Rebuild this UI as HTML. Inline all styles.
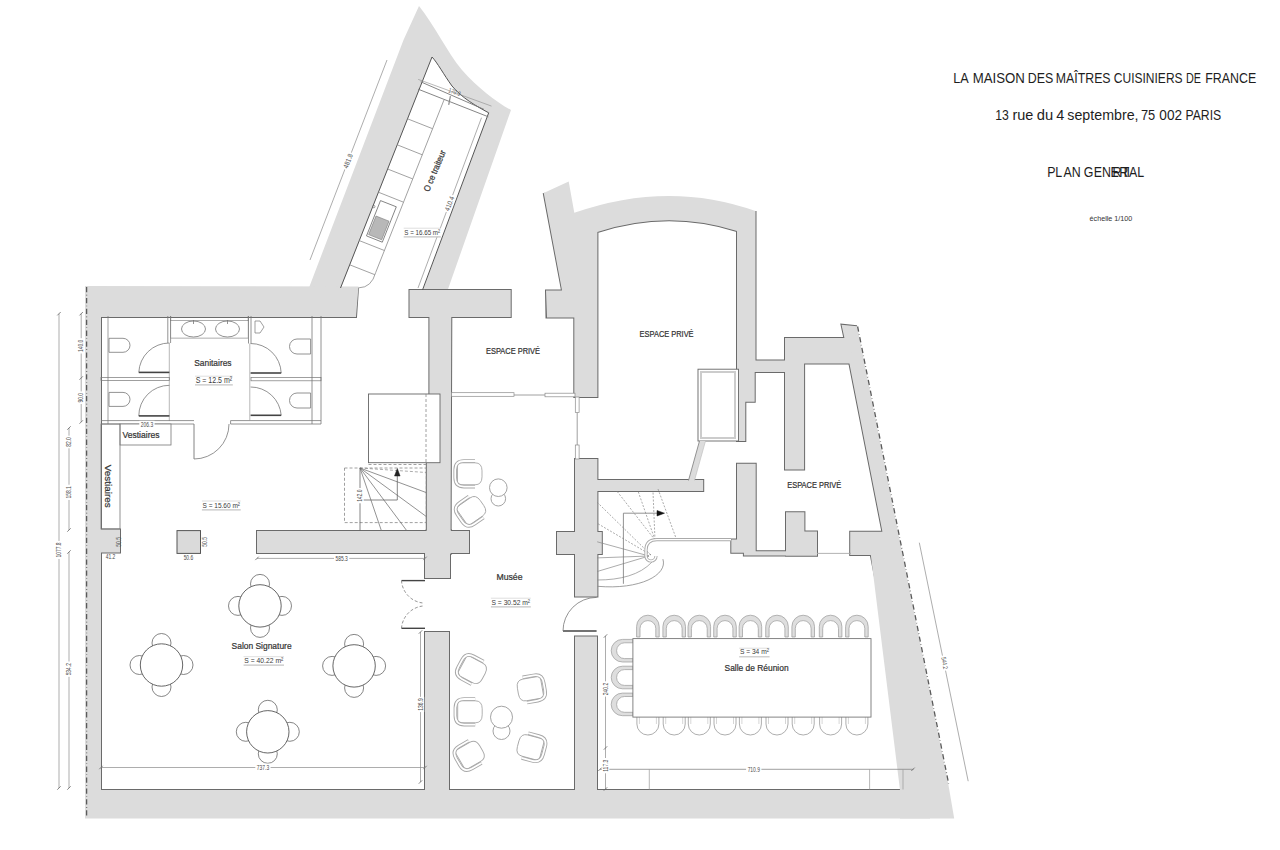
<!DOCTYPE html>
<html><head><meta charset="utf-8"><style>
html,body{margin:0;padding:0;background:#fff;width:1280px;height:850px;overflow:hidden;}
svg{position:absolute;left:0;top:0;}
text{font-family:"Liberation Sans",sans-serif;}
</style></head><body>
<svg width="1280" height="850" viewBox="0 0 1280 850">
<path d="M308.5,289 L403.5,40 L419,6 C435,26 447,52 462,70 C478,88 496,102 511,110 L447,292 Z" fill="#dcdcdc"/><path d="M336.5,299 L340.5,289 L432,57 C437,62 444,75 452,86 C462,98 476,106 488.7,112.8 L422.5,291 L419,300 Z" fill="#fff"/><g fill="none" stroke="#6a6a6a" stroke-width="2"><path d="M86,317 L356,317 L358,287.5"/><path d="M101,287 L101,791"/><path d="M86,790 L930,790"/><path d="M257,531 L469,531 L469,553 L257,553 Z"/><path d="M429.4,317 L451.3,317 L450.6,531 L426.8,531 L426.8,400 L429.4,400 Z"/><path d="M425,553 L450,553 L450,578 L425,578 Z"/><path d="M426.8,530 L450.6,530 L450.6,554 L426.8,554 Z"/><path d="M425,791.5 L425,632 L449,632 L449,791.5"/><path d="M409.5,290 L510.7,290 L510.7,317 L409.5,317 Z"/><path d="M574.3,212.8 M543.7,193 L562,290.4 L546,290.4 L546.5,317.6 L574.3,317.6 L574.3,397 L597.4,397 L597.4,232 Q668,209 737,231 L737,441 L745.3,441 L745.3,401.7 L754.7,401.7 L754.7,372 L785,372 L785,360.4 L755.5,360.4 L755.5,211"/><path d="M864,363.5 L804.1,363.5 L804.1,469.4 L785,469.4 L785,338 L844.4,338 L841.5,324.7 L857,326.2"/><path d="M849.4,363.5 L882.4,531.8 L850.2,531.8 L850.2,555 L870.8,555 L916.5,790.5"/><path d="M575,459 L597.4,459 L597.4,532 L601.8,532 L601.8,554 L597.4,554 L597.4,596.6 L575,596.6 L575,554 L557,554 L557,532 L575,532 Z"/><path d="M575,791.5 L575,636.5 L597,636.5 L597,791.5"/><path d="M597,480 L703.2,480 L703.2,491 L597,491 Z"/><path d="M737,463.8 L755.7,463.8 L755.7,552.7 L731.3,552.7 L731.3,539.5 L737,539.5 Z"/><path d="M743.9,551.3 L817,551.3 L817,555.5 L743.9,555.5 Z"/><path d="M786,512.2 L804.4,512.2 L804.4,531.6 L817,531.6 L817,555.5 L786,555.5 Z"/><path d="M101,529.4 L120,529.4 L120,552.5 L101,552.5 Z"/></g><g fill="#dcdcdc" stroke="none"><path d="M85,286 L358.5,286.5 L356,317 L85,317 Z"/><path d="M85,286 L101,286 L101,791 L85,791 Z"/><path d="M85,790 L930,790 L930,818.5 L85,818.5 Z"/><path d="M257,531 L469,531 L469,553 L257,553 Z"/><path d="M429.4,317 L451.3,317 L450.6,531 L426.8,531 L426.8,400 L429.4,400 Z"/><path d="M425,553 L450,553 L450,578 L425,578 Z"/><path d="M426.8,530 L450.6,530 L450.6,554 L426.8,554 Z"/><path d="M425,632 L449,632 L449,795 L425,795 Z"/><path d="M409.5,290 L510.7,290 L510.7,317 L409.5,317 Z"/><path d="M546,290.4 L562,290.4 L543.7,193 L568.7,181.5 L574.3,212.8 Q668,180 755.5,211 L755.5,360.4 L785,360.4 L785,372 L754.7,372 L754.7,401.7 L745.3,401.7 L745.3,441 L737,441 L737,231 Q668,209 597.4,232 L597.4,397 L574.3,397 L574.3,317.6 L547,317.6 Z"/><path d="M785,338 L844.4,338 L841.5,324.7 L857,326.2 L864,363.5 L804.1,363.5 L804.1,469.4 L785,469.4 Z"/><path d="M857,326.2 L948.2,783.5 L954.2,818.5 L900,818.5 L900,790 L870.8,555 L850.2,555 L850.2,531.8 L882.4,531.8 L849.4,363.5 Z"/><path d="M575,459 L597.4,459 L597.4,532 L601.8,532 L601.8,554 L597.4,554 L597.4,596.6 L575,596.6 L575,554 L557,554 L557,532 L575,532 Z"/><path d="M575,636.5 L597,636.5 L597,795 L575,795 Z"/><path d="M597,480 L703.2,480 L703.2,491 L597,491 Z"/><path d="M737,463.8 L755.7,463.8 L755.7,552.7 L731.3,552.7 L731.3,539.5 L737,539.5 Z"/><path d="M743.9,551.3 L817,551.3 L817,555.5 L743.9,555.5 Z"/><path d="M786,512.2 L804.4,512.2 L804.4,531.6 L817,531.6 L817,555.5 L786,555.5 Z"/><path d="M101,529.4 L120,529.4 L120,552.5 L101,552.5 Z"/></g><path d="M340.5,288 L432,57 C437,62 444,75 452,86 C462,98 476,106 488.7,112.8 L422.5,290" stroke="#555" stroke-width="1" fill="none"/><line x1="86.6" y1="287" x2="86.6" y2="818" stroke="#5a5a5a" stroke-width="1.3" stroke-dasharray="5.3,2.5,0.6,2.5"/><line x1="857.6" y1="326.5" x2="948.6" y2="783.5" stroke="#5a5a5a" stroke-width="1.3" stroke-dasharray="5.3,2.5,0.6,2.5"/>
<path d="M444,99.9 L375.7,272.5 Q371.5,287.6 359,287.8" stroke="#8a8a8a" stroke-width="0.8" fill="none"/><line x1="349.7" y1="264.8" x2="374.8" y2="274.7" stroke="#8a8a8a" stroke-width="0.8"/><line x1="359.3" y1="240.6" x2="384.4" y2="250.5" stroke="#8a8a8a" stroke-width="0.8"/><line x1="378.4" y1="192.2" x2="403.5" y2="202.2" stroke="#8a8a8a" stroke-width="0.8"/><line x1="387.6" y1="169" x2="412.7" y2="178.9" stroke="#8a8a8a" stroke-width="0.8"/><line x1="397.2" y1="144.8" x2="422.3" y2="154.8" stroke="#8a8a8a" stroke-width="0.8"/><line x1="407.5" y1="118.8" x2="432.6" y2="128.7" stroke="#8a8a8a" stroke-width="0.8"/><path d="M380.5,200.6 L396.3,206.8 L382.3,242.2 L366.5,235.9 Z" stroke="#666" stroke-width="0.8" fill="#fff"/><path d="M376,216 L389,221.2 L381.7,239.8 L368.6,234.6 Z" stroke="#777" stroke-width="0.6" fill="#b8b8b8"/><circle cx="373.8" cy="206.6" r="1.2" stroke="#666" stroke-width="0.6" fill="none"/><line x1="418.2" y1="79.4" x2="491.5" y2="106.1" stroke="#8a8a8a" stroke-width="0.6"/><line x1="420.7" y1="81.8" x2="484" y2="109.4" stroke="#777" stroke-width="0.9"/><line x1="418.2" y1="89.2" x2="488.3" y2="116.8" stroke="#777" stroke-width="0.9"/><line x1="450.4" y1="96.2" x2="448.7" y2="104.9" stroke="#888" stroke-width="1.2"/><line x1="481.5" y1="117.7" x2="418" y2="288" stroke="#8a8a8a" stroke-width="0.7"/><line x1="310" y1="260" x2="387" y2="60" stroke="#8a8a8a" stroke-width="0.7"/><rect x="339" y="157.1" width="18" height="7.9" fill="#fff" transform="rotate(-68.5 348 161)"/><text x="350.3" y="161.9" font-size="7" text-anchor="middle" fill="#4a4a4a" transform="rotate(-68.5 350.3 161.9)" textLength="15" lengthAdjust="spacingAndGlyphs">481.8</text><rect x="440.4" y="199.6" width="18" height="7.9" fill="#fff" transform="rotate(-69.5 449.4 203.5)"/><text x="451.7" y="204.4" font-size="7" text-anchor="middle" fill="#4a4a4a" transform="rotate(-69.5 451.7 204.4)" textLength="15" lengthAdjust="spacingAndGlyphs">410.4</text><text x="453.7" y="94.1" font-size="6.5" text-anchor="middle" fill="#4a4a4a" transform="rotate(20 453.7 94.1)" textLength="12.3" lengthAdjust="spacingAndGlyphs">170.0</text><text x="437.5" y="172" font-size="9" text-anchor="middle" fill="#333" transform="rotate(-67 437.5 172)" textLength="44" lengthAdjust="spacingAndGlyphs" stroke="#333" stroke-width="0.22">O ce traiteur</text><rect x="403.7" y="228.2" width="37.1" height="8.6" fill="#fff"/><line x1="403.7" y1="228.2" x2="440.8" y2="228.2" stroke="#d6d6d6" stroke-width="0.8"/><line x1="403.7" y1="236.8" x2="440.8" y2="236.8" stroke="#c4c4c4" stroke-width="1.2"/><text x="422.2" y="234.5" font-size="7.8" text-anchor="middle" fill="#3a3a3a" textLength="35.7" lengthAdjust="spacingAndGlyphs">S = 16.65 m²</text><line x1="108" y1="316" x2="108" y2="424" stroke="#777" stroke-width="0.7"/><line x1="167.8" y1="316" x2="167.8" y2="343" stroke="#777" stroke-width="0.8"/><line x1="170.6" y1="316" x2="170.6" y2="343" stroke="#777" stroke-width="0.8"/><line x1="169.3" y1="343" x2="169.3" y2="421" stroke="#999" stroke-width="0.7"/><rect x="101" y="377.4" width="68.3" height="3.1" stroke="#777" stroke-width="0.7" fill="none"/><line x1="101" y1="420.6" x2="194" y2="420.6" stroke="#777" stroke-width="0.8"/><line x1="101" y1="424" x2="194" y2="424" stroke="#777" stroke-width="0.8"/><line x1="230.6" y1="420.6" x2="321" y2="420.6" stroke="#777" stroke-width="0.8"/><line x1="230.6" y1="424" x2="321" y2="424" stroke="#777" stroke-width="0.8"/><line x1="248.5" y1="316" x2="248.5" y2="343.5" stroke="#777" stroke-width="0.8"/><line x1="251" y1="316" x2="251" y2="343.5" stroke="#777" stroke-width="0.8"/><line x1="249.8" y1="343.5" x2="249.8" y2="421" stroke="#999" stroke-width="0.7"/><rect x="251" y="377.6" width="70" height="3.2" stroke="#777" stroke-width="0.7" fill="none"/><line x1="312" y1="316" x2="312" y2="424" stroke="#777" stroke-width="0.8"/><line x1="321" y1="316" x2="321" y2="424" stroke="#777" stroke-width="0.8"/><path d="M138.8,372.4 A30.6,30.6 0 0 1 169.4,343" stroke="#777" stroke-width="0.8" fill="none"/><line x1="138.8" y1="372.4" x2="169.4" y2="372.4" stroke="#444" stroke-width="1.6"/><path d="M138.8,415.9 A30.6,30.6 0 0 1 169.4,385.3" stroke="#777" stroke-width="0.8" fill="none"/><line x1="138.8" y1="415.9" x2="169.4" y2="415.9" stroke="#444" stroke-width="1.6"/><path d="M281.2,373 A30.6,30.6 0 0 0 250.6,343.5" stroke="#777" stroke-width="0.8" fill="none"/><line x1="250.6" y1="373" x2="281.2" y2="373" stroke="#444" stroke-width="1.6"/><path d="M281.2,415.3 A30.6,30.6 0 0 0 250.6,387" stroke="#777" stroke-width="0.8" fill="none"/><line x1="250.6" y1="415.3" x2="281.2" y2="415.3" stroke="#444" stroke-width="1.6"/><path d="M109,338.3 L123,338.3 A7,7 0 0 1 123,352.3 L109,352.3 Z" stroke="#777" stroke-width="0.8" fill="none"/><path d="M109,392.4 L123,392.4 A7,7 0 0 1 123,406.4 L109,406.4 Z" stroke="#777" stroke-width="0.8" fill="none"/><path d="M310.6,339.0 L297,339.0 A7.5,7.5 0 0 0 297,354.0 L310.6,354.0 Z" stroke="#777" stroke-width="0.8" fill="none"/><path d="M310.6,393.0 L297,393.0 A7.5,7.5 0 0 0 297,408.0 L310.6,408.0 Z" stroke="#777" stroke-width="0.8" fill="none"/><rect x="170.6" y="320.6" width="77.6" height="17.5" stroke="#8a8a8a" stroke-width="0.7" fill="none"/><line x1="170.6" y1="316" x2="170.6" y2="321" stroke="#777" stroke-width="0.7"/><line x1="248.2" y1="316" x2="248.2" y2="321" stroke="#777" stroke-width="0.7"/><ellipse cx="193.5" cy="329" rx="12" ry="8" stroke="#777" stroke-width="0.8" fill="none"/><ellipse cx="227.5" cy="329" rx="12" ry="8" stroke="#777" stroke-width="0.8" fill="none"/><line x1="193.5" y1="320" x2="193.5" y2="324" stroke="#777" stroke-width="0.8"/><line x1="227.5" y1="320" x2="227.5" y2="324" stroke="#777" stroke-width="0.8"/><path d="M255,321 L260,321 L264,327 L260,333 L255,333 Z" stroke="#777" stroke-width="0.7" fill="none"/><line x1="194" y1="424" x2="194" y2="459" stroke="#777" stroke-width="0.9"/><path d="M194,459 A35,35 0 0 0 229,424" stroke="#777" stroke-width="0.8" fill="none"/><line x1="230.6" y1="420.6" x2="230.6" y2="424" stroke="#777" stroke-width="0.8"/><text x="212.9" y="365.9" font-size="9.8" text-anchor="middle" fill="#333" textLength="37.3" lengthAdjust="spacingAndGlyphs" stroke="#333" stroke-width="0.22">Sanitaires</text><line x1="195" y1="376.2" x2="232.8" y2="376.2" stroke="#d6d6d6" stroke-width="0.8"/><line x1="195" y1="384.9" x2="232.8" y2="384.9" stroke="#c4c4c4" stroke-width="1.2"/><text x="213.9" y="382.8" font-size="8.8" text-anchor="middle" fill="#3a3a3a" textLength="36.4" lengthAdjust="spacingAndGlyphs">S = 12.5 m²</text><rect x="120" y="424" width="51" height="21" stroke="#777" stroke-width="0.8" fill="#fff"/><rect x="139.3" y="420.8" width="15.3" height="7.5" fill="#fff" transform="rotate(0 147 424.6)"/><text x="147" y="426.9" font-size="6.5" text-anchor="middle" fill="#4a4a4a" textLength="12.3" lengthAdjust="spacingAndGlyphs">206.3</text><text x="141" y="438" font-size="8.5" text-anchor="middle" fill="#333" textLength="37" lengthAdjust="spacingAndGlyphs" stroke="#333" stroke-width="0.22">Vestiaires</text><rect x="101" y="424" width="19" height="105" stroke="#777" stroke-width="0.8" fill="none"/><text x="105.2" y="486.3" font-size="8.5" text-anchor="middle" fill="#333" transform="rotate(90 105.2 486.3)" textLength="43" lengthAdjust="spacingAndGlyphs" stroke="#333" stroke-width="0.22">Vestiaires</text><rect x="177" y="530.6" width="23.5" height="22.8" stroke="#555" stroke-width="1" fill="#dadada"/><text x="188.4" y="560.4" font-size="6.5" text-anchor="middle" fill="#4a4a4a" textLength="9.55" lengthAdjust="spacingAndGlyphs">50.6</text><text x="207.1" y="541.9" font-size="6.5" text-anchor="middle" fill="#4a4a4a" transform="rotate(-90 207.1 541.9)" textLength="9.55" lengthAdjust="spacingAndGlyphs">50.5</text><text x="121.5" y="541.9" font-size="6.5" text-anchor="middle" fill="#4a4a4a" transform="rotate(-90 121.5 541.9)" textLength="9.55" lengthAdjust="spacingAndGlyphs">50.5</text><text x="110.5" y="558.9" font-size="6.5" text-anchor="middle" fill="#4a4a4a" textLength="9.55" lengthAdjust="spacingAndGlyphs">41.2</text><line x1="201.9" y1="501" x2="240.7" y2="501" stroke="#d6d6d6" stroke-width="0.8"/><line x1="201.9" y1="509.8" x2="240.7" y2="509.8" stroke="#c4c4c4" stroke-width="1.2"/><text x="221.3" y="507.7" font-size="8" text-anchor="middle" fill="#3a3a3a" textLength="37.4" lengthAdjust="spacingAndGlyphs">S = 15.60 m²</text><circle cx="260" cy="583.9" r="9.5" stroke="#666" stroke-width="0.8" fill="#fff"/><circle cx="260" cy="627.9" r="9.5" stroke="#666" stroke-width="0.8" fill="#fff"/><circle cx="238" cy="605.9" r="9.5" stroke="#666" stroke-width="0.8" fill="#fff"/><circle cx="282" cy="605.9" r="9.5" stroke="#666" stroke-width="0.8" fill="#fff"/><circle cx="260" cy="605.9" r="21.2" stroke="#555" stroke-width="0.9" fill="#fff"/><circle cx="161.5" cy="643" r="9.5" stroke="#666" stroke-width="0.8" fill="#fff"/><circle cx="161.5" cy="687" r="9.5" stroke="#666" stroke-width="0.8" fill="#fff"/><circle cx="139.5" cy="665" r="9.5" stroke="#666" stroke-width="0.8" fill="#fff"/><circle cx="183.5" cy="665" r="9.5" stroke="#666" stroke-width="0.8" fill="#fff"/><circle cx="161.5" cy="665" r="21.2" stroke="#555" stroke-width="0.9" fill="#fff"/><circle cx="354.1" cy="643.9" r="9.5" stroke="#666" stroke-width="0.8" fill="#fff"/><circle cx="354.1" cy="687.9" r="9.5" stroke="#666" stroke-width="0.8" fill="#fff"/><circle cx="332.1" cy="665.9" r="9.5" stroke="#666" stroke-width="0.8" fill="#fff"/><circle cx="376.1" cy="665.9" r="9.5" stroke="#666" stroke-width="0.8" fill="#fff"/><circle cx="354.1" cy="665.9" r="21.2" stroke="#555" stroke-width="0.9" fill="#fff"/><circle cx="267.8" cy="709.8" r="9.5" stroke="#666" stroke-width="0.8" fill="#fff"/><circle cx="267.8" cy="753.8" r="9.5" stroke="#666" stroke-width="0.8" fill="#fff"/><circle cx="245.8" cy="731.8" r="9.5" stroke="#666" stroke-width="0.8" fill="#fff"/><circle cx="289.8" cy="731.8" r="9.5" stroke="#666" stroke-width="0.8" fill="#fff"/><circle cx="267.8" cy="731.8" r="21.2" stroke="#555" stroke-width="0.9" fill="#fff"/><text x="261.6" y="648.5" font-size="9.2" text-anchor="middle" fill="#333" textLength="60" lengthAdjust="spacingAndGlyphs" stroke="#333" stroke-width="0.22">Salon Signature</text><line x1="243.6" y1="656.7" x2="284" y2="656.7" stroke="#d6d6d6" stroke-width="0.8"/><line x1="243.6" y1="665.2" x2="284" y2="665.2" stroke="#c4c4c4" stroke-width="1.2"/><text x="263.8" y="662.5" font-size="7.3" text-anchor="middle" fill="#3a3a3a" textLength="39.0" lengthAdjust="spacingAndGlyphs">S = 40.22 m²</text><line x1="101" y1="767.5" x2="425" y2="767.5" stroke="#8a8a8a" stroke-width="0.7"/><rect x="255.3" y="763.7" width="15.3" height="7.5" fill="#fff" transform="rotate(0 263 767.5)"/><text x="263" y="769.8" font-size="6.5" text-anchor="middle" fill="#4a4a4a" textLength="12.3" lengthAdjust="spacingAndGlyphs">737.3</text><line x1="257" y1="558.4" x2="425" y2="558.4" stroke="#8a8a8a" stroke-width="0.7"/><rect x="334" y="554.6" width="15.3" height="7.5" fill="#fff" transform="rotate(0 341.6 558.4)"/><text x="341.6" y="560.7" font-size="6.5" text-anchor="middle" fill="#4a4a4a" textLength="12.3" lengthAdjust="spacingAndGlyphs">585.3</text><line x1="420.5" y1="632" x2="420.5" y2="782" stroke="#8a8a8a" stroke-width="0.7"/><rect x="412.9" y="700.7" width="15.3" height="7.5" fill="#fff" transform="rotate(-90 420.5 704.5)"/><text x="422.8" y="704.5" font-size="6.5" text-anchor="middle" fill="#4a4a4a" transform="rotate(-90 422.8 704.5)" textLength="12.3" lengthAdjust="spacingAndGlyphs">136.9</text><rect x="368.5" y="394" width="71.5" height="68.7" stroke="#666" stroke-width="0.9" fill="#fff"/><line x1="426" y1="394" x2="426" y2="462.7" stroke="#888" stroke-width="0.8" stroke-dasharray="3,2"/><line x1="368.5" y1="464.5" x2="426" y2="464.5" stroke="#888" stroke-width="0.8" stroke-dasharray="3,2"/><rect x="344.5" y="468" width="81.8" height="54.6" stroke="#888" stroke-width="0.8" fill="none" stroke-dasharray="3,2"/><line x1="360" y1="468" x2="426.3" y2="472.5" stroke="#888" stroke-width="0.7" stroke-dasharray="3,2"/><line x1="360" y1="468" x2="426.3" y2="492.6" stroke="#6f6f6f" stroke-width="0.75"/><line x1="360" y1="468" x2="426.3" y2="516.5" stroke="#6f6f6f" stroke-width="0.75"/><line x1="360" y1="468" x2="407" y2="531" stroke="#6f6f6f" stroke-width="0.75"/><line x1="360" y1="468" x2="381.5" y2="531" stroke="#6f6f6f" stroke-width="0.75"/><line x1="360" y1="468" x2="360" y2="531" stroke="#666" stroke-width="0.8"/><path d="M361.4,500 L397.3,500 L397.3,474" stroke="#666" stroke-width="0.8" fill="none"/><path d="M394.5,476 L397.3,468.5 L400.1,476 Z" stroke="#222" stroke-width="0.5" fill="#222"/><rect x="352.4" y="491.9" width="15.3" height="7.5" fill="#fff" transform="rotate(-90 360 495.7)"/><text x="362.3" y="495.7" font-size="6.5" text-anchor="middle" fill="#4a4a4a" transform="rotate(-90 362.3 495.7)" textLength="12.3" lengthAdjust="spacingAndGlyphs">142.0</text><line x1="401.5" y1="580.6" x2="425" y2="580.6" stroke="#444" stroke-width="1.4"/><line x1="401.5" y1="628.3" x2="425" y2="628.3" stroke="#444" stroke-width="1.4"/><path d="M401.5,580.6 A24,24 0 0 0 423,603" stroke="#777" stroke-width="0.8" fill="none" stroke-dasharray="3,2"/><path d="M401.5,628.3 A24,24 0 0 1 423,606" stroke="#777" stroke-width="0.8" fill="none" stroke-dasharray="3,2"/><line x1="563" y1="631" x2="596.6" y2="631" stroke="#444" stroke-width="1.4"/><path d="M563,631 A33.6,33.6 0 0 1 596.6,597.4" stroke="#777" stroke-width="0.8" fill="none"/><line x1="514" y1="395" x2="545" y2="395" stroke="#888" stroke-width="0.8"/><rect x="451.5" y="392.7" width="62.5" height="3.6" stroke="#8a8a8a" stroke-width="0.7" fill="#fff"/><rect x="545" y="393.2" width="30" height="3.6" stroke="#8a8a8a" stroke-width="0.7" fill="#fff"/><line x1="577.2" y1="412.5" x2="577.2" y2="445" stroke="#888" stroke-width="0.8"/><rect x="575.3" y="397" width="3.8" height="15.5" stroke="#8a8a8a" stroke-width="0.7" fill="#fff"/><rect x="575.3" y="445" width="3.8" height="14" stroke="#8a8a8a" stroke-width="0.7" fill="#fff"/><g transform="translate(468 473.8) rotate(0)"><path d="M-10.5,-9 Q-10.5,-11 -8,-11 L7,-11 Q14,-11 14,-3 L14,3 Q14,11 7,11 L-8,11 Q-10.5,11 -10.5,9 Z" stroke="#a8a8a8" stroke-width="0.9" fill="#fff"/><path d="M7,-12.8 L-4,-12.8 Q-12.8,-12.8 -12.8,-4 L-12.8,4 Q-12.8,12.8 -4,12.8 L7,12.8" stroke="#a8a8a8" stroke-width="3.6" fill="none"/><path d="M7,-12.8 L-4,-12.8 Q-12.8,-12.8 -12.8,-4 L-12.8,4 Q-12.8,12.8 -4,12.8 L7,12.8" stroke="#fff" stroke-width="1.8" fill="none"/></g><g transform="translate(470.5 511) rotate(-35)"><path d="M-10.5,-9 Q-10.5,-11 -8,-11 L7,-11 Q14,-11 14,-3 L14,3 Q14,11 7,11 L-8,11 Q-10.5,11 -10.5,9 Z" stroke="#a8a8a8" stroke-width="0.9" fill="#fff"/><path d="M7,-12.8 L-4,-12.8 Q-12.8,-12.8 -12.8,-4 L-12.8,4 Q-12.8,12.8 -4,12.8 L7,12.8" stroke="#a8a8a8" stroke-width="3.6" fill="none"/><path d="M7,-12.8 L-4,-12.8 Q-12.8,-12.8 -12.8,-4 L-12.8,4 Q-12.8,12.8 -4,12.8 L7,12.8" stroke="#fff" stroke-width="1.8" fill="none"/></g><circle cx="498.3" cy="498.7" r="7.3" stroke="#999" stroke-width="0.9" fill="#fff"/><circle cx="498.3" cy="487.7" r="8.8" stroke="#999" stroke-width="0.9" fill="#fff"/><g transform="translate(471.4 669.6) rotate(28)"><path d="M-10.5,-9 Q-10.5,-11 -8,-11 L7,-11 Q14,-11 14,-3 L14,3 Q14,11 7,11 L-8,11 Q-10.5,11 -10.5,9 Z" stroke="#a8a8a8" stroke-width="0.9" fill="#fff"/><path d="M7,-12.8 L-4,-12.8 Q-12.8,-12.8 -12.8,-4 L-12.8,4 Q-12.8,12.8 -4,12.8 L7,12.8" stroke="#a8a8a8" stroke-width="3.6" fill="none"/><path d="M7,-12.8 L-4,-12.8 Q-12.8,-12.8 -12.8,-4 L-12.8,4 Q-12.8,12.8 -4,12.8 L7,12.8" stroke="#fff" stroke-width="1.8" fill="none"/></g><g transform="translate(468.2 711.8) rotate(0)"><path d="M-10.5,-9 Q-10.5,-11 -8,-11 L7,-11 Q14,-11 14,-3 L14,3 Q14,11 7,11 L-8,11 Q-10.5,11 -10.5,9 Z" stroke="#a8a8a8" stroke-width="0.9" fill="#fff"/><path d="M7,-12.8 L-4,-12.8 Q-12.8,-12.8 -12.8,-4 L-12.8,4 Q-12.8,12.8 -4,12.8 L7,12.8" stroke="#a8a8a8" stroke-width="3.6" fill="none"/><path d="M7,-12.8 L-4,-12.8 Q-12.8,-12.8 -12.8,-4 L-12.8,4 Q-12.8,12.8 -4,12.8 L7,12.8" stroke="#fff" stroke-width="1.8" fill="none"/></g><g transform="translate(469.1 755.4) rotate(-30)"><path d="M-10.5,-9 Q-10.5,-11 -8,-11 L7,-11 Q14,-11 14,-3 L14,3 Q14,11 7,11 L-8,11 Q-10.5,11 -10.5,9 Z" stroke="#a8a8a8" stroke-width="0.9" fill="#fff"/><path d="M7,-12.8 L-4,-12.8 Q-12.8,-12.8 -12.8,-4 L-12.8,4 Q-12.8,12.8 -4,12.8 L7,12.8" stroke="#a8a8a8" stroke-width="3.6" fill="none"/><path d="M7,-12.8 L-4,-12.8 Q-12.8,-12.8 -12.8,-4 L-12.8,4 Q-12.8,12.8 -4,12.8 L7,12.8" stroke="#fff" stroke-width="1.8" fill="none"/></g><g transform="translate(531.7 688.7) rotate(170)"><path d="M-10.5,-9 Q-10.5,-11 -8,-11 L7,-11 Q14,-11 14,-3 L14,3 Q14,11 7,11 L-8,11 Q-10.5,11 -10.5,9 Z" stroke="#a8a8a8" stroke-width="0.9" fill="#fff"/><path d="M7,-12.8 L-4,-12.8 Q-12.8,-12.8 -12.8,-4 L-12.8,4 Q-12.8,12.8 -4,12.8 L7,12.8" stroke="#a8a8a8" stroke-width="3.6" fill="none"/><path d="M7,-12.8 L-4,-12.8 Q-12.8,-12.8 -12.8,-4 L-12.8,4 Q-12.8,12.8 -4,12.8 L7,12.8" stroke="#fff" stroke-width="1.8" fill="none"/></g><g transform="translate(531.7 747.4) rotate(195)"><path d="M-10.5,-9 Q-10.5,-11 -8,-11 L7,-11 Q14,-11 14,-3 L14,3 Q14,11 7,11 L-8,11 Q-10.5,11 -10.5,9 Z" stroke="#a8a8a8" stroke-width="0.9" fill="#fff"/><path d="M7,-12.8 L-4,-12.8 Q-12.8,-12.8 -12.8,-4 L-12.8,4 Q-12.8,12.8 -4,12.8 L7,12.8" stroke="#a8a8a8" stroke-width="3.6" fill="none"/><path d="M7,-12.8 L-4,-12.8 Q-12.8,-12.8 -12.8,-4 L-12.8,4 Q-12.8,12.8 -4,12.8 L7,12.8" stroke="#fff" stroke-width="1.8" fill="none"/></g><circle cx="501.5" cy="731" r="8.5" stroke="#999" stroke-width="0.9" fill="#fff"/><circle cx="501.5" cy="717.2" r="11" stroke="#999" stroke-width="0.9" fill="#fff"/><text x="509.5" y="580" font-size="9" text-anchor="middle" fill="#333" textLength="26" lengthAdjust="spacingAndGlyphs" stroke="#333" stroke-width="0.22">Musée</text><line x1="490.9" y1="598.2" x2="530.8" y2="598.2" stroke="#d6d6d6" stroke-width="0.8"/><line x1="490.9" y1="606.8" x2="530.8" y2="606.8" stroke="#c4c4c4" stroke-width="1.2"/><text x="510.8" y="604.5" font-size="7.8" text-anchor="middle" fill="#3a3a3a" textLength="38.5" lengthAdjust="spacingAndGlyphs">S = 30.52 m²</text><text x="513" y="354" font-size="8.2" text-anchor="middle" fill="#333" textLength="54" lengthAdjust="spacingAndGlyphs" stroke="#333" stroke-width="0.22">ESPACE PRIVÉ</text><text x="666.6" y="336.5" font-size="8.2" text-anchor="middle" fill="#333" textLength="54" lengthAdjust="spacingAndGlyphs" stroke="#333" stroke-width="0.22">ESPACE PRIVÉ</text><text x="814.3" y="488" font-size="8.2" text-anchor="middle" fill="#333" textLength="54" lengthAdjust="spacingAndGlyphs" stroke="#333" stroke-width="0.22">ESPACE PRIVÉ</text><rect x="698" y="369.2" width="40.5" height="71.8" stroke="#666" stroke-width="0.9" fill="#fff"/><rect x="701" y="372" width="34" height="66" stroke="#ccc" stroke-width="2" fill="#fff"/><path d="M699.5,441 L705.5,441 L694.5,480.5 L688.5,480.5 Z" stroke="none" stroke-width="0" fill="#dcdcdc"/><path d="M699.5,441 L688.5,480.5" stroke="#888" stroke-width="0.9" fill="none"/><path d="M705.5,441 L694.5,480.5" stroke="#bbb" stroke-width="0.6" fill="none"/><line x1="651" y1="555" x2="597.2" y2="502.3" stroke="#888" stroke-width="0.7" stroke-dasharray="2,1.5"/><line x1="651" y1="555" x2="597.2" y2="523.3" stroke="#888" stroke-width="0.7" stroke-dasharray="2,1.5"/><line x1="655" y1="540" x2="617.2" y2="491.5" stroke="#888" stroke-width="0.7" stroke-dasharray="2,1.5"/><line x1="655" y1="540" x2="638.2" y2="491.5" stroke="#888" stroke-width="0.7" stroke-dasharray="2,1.5"/><line x1="655" y1="540" x2="653" y2="491.5" stroke="#888" stroke-width="0.7" stroke-dasharray="2,1.5"/><line x1="658" y1="489" x2="676.5" y2="539.4" stroke="#888" stroke-width="0.7" stroke-dasharray="2,1.5"/><line x1="649" y1="556" x2="597.2" y2="541.8" stroke="#888" stroke-width="0.7"/><line x1="649" y1="556" x2="597.2" y2="557.9" stroke="#888" stroke-width="0.7"/><line x1="649" y1="556" x2="597.2" y2="571.5" stroke="#888" stroke-width="0.7"/><path d="M662.9,559.1 C668,575 640,590 597.5,586.3" stroke="#888" stroke-width="0.8" fill="none"/><path d="M652,562 C640,575 620,580 597.5,580" stroke="#888" stroke-width="0.7" fill="none"/><path d="M731,539.6 L657,539.6 C650,539.6 646,543 646,550 L646,556 A5,5 0 1 0 656,556" stroke="#aaa" stroke-width="3.2" fill="none"/><path d="M731,539.6 L657,539.6 C650,539.6 646,543 646,550 L646,556 A5,5 0 1 0 656,556" stroke="#fff" stroke-width="1.4" fill="none"/><path d="M623.4,583.8 L623.4,513.2 L659,513.2" stroke="#777" stroke-width="0.8" fill="none"/><path d="M657,510.5 L664.5,513.2 L657,516 Z" stroke="#111" stroke-width="0.5" fill="#111"/><line x1="817" y1="553.4" x2="851" y2="553.4" stroke="#aaa" stroke-width="0.9"/><path d="M636.6,637 L636.6,626.5 A11.3,11.3 0 0 1 659.2,626.5 L659.2,637 L655.8,637 L655.8,628.5 A7.9,7.9 0 0 0 640,628.5 L640,637 Z" stroke="#9a9a9a" stroke-width="0.7" fill="#dedede"/><path d="M636.9,717 L636.9,724 A11,11 0 0 0 658.9,724 L658.9,717" stroke="#999" stroke-width="0.8" fill="none"/><line x1="639.4" y1="717" x2="639.4" y2="724" stroke="#bbb" stroke-width="0.6"/><line x1="656.4" y1="717" x2="656.4" y2="724" stroke="#bbb" stroke-width="0.6"/><path d="M662.9,637 L662.9,626.5 A11.3,11.3 0 0 1 685.5,626.5 L685.5,637 L682.1,637 L682.1,628.5 A7.9,7.9 0 0 0 666.3,628.5 L666.3,637 Z" stroke="#9a9a9a" stroke-width="0.7" fill="#dedede"/><path d="M663.2,717 L663.2,724 A11,11 0 0 0 685.2,724 L685.2,717" stroke="#999" stroke-width="0.8" fill="none"/><line x1="665.7" y1="717" x2="665.7" y2="724" stroke="#bbb" stroke-width="0.6"/><line x1="682.7" y1="717" x2="682.7" y2="724" stroke="#bbb" stroke-width="0.6"/><path d="M688,637 L688,626.5 A11.3,11.3 0 0 1 710.6,626.5 L710.6,637 L707.2,637 L707.2,628.5 A7.9,7.9 0 0 0 691.4,628.5 L691.4,637 Z" stroke="#9a9a9a" stroke-width="0.7" fill="#dedede"/><path d="M688.3,717 L688.3,724 A11,11 0 0 0 710.3,724 L710.3,717" stroke="#999" stroke-width="0.8" fill="none"/><line x1="690.8" y1="717" x2="690.8" y2="724" stroke="#bbb" stroke-width="0.6"/><line x1="707.8" y1="717" x2="707.8" y2="724" stroke="#bbb" stroke-width="0.6"/><path d="M713.7,637 L713.7,626.5 A11.3,11.3 0 0 1 736.3,626.5 L736.3,637 L732.9,637 L732.9,628.5 A7.9,7.9 0 0 0 717.1,628.5 L717.1,637 Z" stroke="#9a9a9a" stroke-width="0.7" fill="#dedede"/><path d="M714,717 L714,724 A11,11 0 0 0 736,724 L736,717" stroke="#999" stroke-width="0.8" fill="none"/><line x1="716.5" y1="717" x2="716.5" y2="724" stroke="#bbb" stroke-width="0.6"/><line x1="733.5" y1="717" x2="733.5" y2="724" stroke="#bbb" stroke-width="0.6"/><path d="M739.1,637 L739.1,626.5 A11.3,11.3 0 0 1 761.7,626.5 L761.7,637 L758.3,637 L758.3,628.5 A7.9,7.9 0 0 0 742.5,628.5 L742.5,637 Z" stroke="#9a9a9a" stroke-width="0.7" fill="#dedede"/><path d="M739.4,717 L739.4,724 A11,11 0 0 0 761.4,724 L761.4,717" stroke="#999" stroke-width="0.8" fill="none"/><line x1="741.9" y1="717" x2="741.9" y2="724" stroke="#bbb" stroke-width="0.6"/><line x1="758.9" y1="717" x2="758.9" y2="724" stroke="#bbb" stroke-width="0.6"/><path d="M765.7,637 L765.7,626.5 A11.3,11.3 0 0 1 788.3,626.5 L788.3,637 L784.9,637 L784.9,628.5 A7.9,7.9 0 0 0 769.1,628.5 L769.1,637 Z" stroke="#9a9a9a" stroke-width="0.7" fill="#dedede"/><path d="M766,717 L766,724 A11,11 0 0 0 788,724 L788,717" stroke="#999" stroke-width="0.8" fill="none"/><line x1="768.5" y1="717" x2="768.5" y2="724" stroke="#bbb" stroke-width="0.6"/><line x1="785.5" y1="717" x2="785.5" y2="724" stroke="#bbb" stroke-width="0.6"/><path d="M791.9,637 L791.9,626.5 A11.3,11.3 0 0 1 814.5,626.5 L814.5,637 L811.1,637 L811.1,628.5 A7.9,7.9 0 0 0 795.3,628.5 L795.3,637 Z" stroke="#9a9a9a" stroke-width="0.7" fill="#dedede"/><path d="M792.2,717 L792.2,724 A11,11 0 0 0 814.2,724 L814.2,717" stroke="#999" stroke-width="0.8" fill="none"/><line x1="794.7" y1="717" x2="794.7" y2="724" stroke="#bbb" stroke-width="0.6"/><line x1="811.7" y1="717" x2="811.7" y2="724" stroke="#bbb" stroke-width="0.6"/><path d="M819.3,637 L819.3,626.5 A11.3,11.3 0 0 1 841.9,626.5 L841.9,637 L838.5,637 L838.5,628.5 A7.9,7.9 0 0 0 822.7,628.5 L822.7,637 Z" stroke="#9a9a9a" stroke-width="0.7" fill="#dedede"/><path d="M819.6,717 L819.6,724 A11,11 0 0 0 841.6,724 L841.6,717" stroke="#999" stroke-width="0.8" fill="none"/><line x1="822.1" y1="717" x2="822.1" y2="724" stroke="#bbb" stroke-width="0.6"/><line x1="839.1" y1="717" x2="839.1" y2="724" stroke="#bbb" stroke-width="0.6"/><path d="M845.6,637 L845.6,626.5 A11.3,11.3 0 0 1 868.2,626.5 L868.2,637 L864.8,637 L864.8,628.5 A7.9,7.9 0 0 0 849,628.5 L849,637 Z" stroke="#9a9a9a" stroke-width="0.7" fill="#dedede"/><path d="M845.9,717 L845.9,724 A11,11 0 0 0 867.9,724 L867.9,717" stroke="#999" stroke-width="0.8" fill="none"/><line x1="848.4" y1="717" x2="848.4" y2="724" stroke="#bbb" stroke-width="0.6"/><line x1="865.4" y1="717" x2="865.4" y2="724" stroke="#bbb" stroke-width="0.6"/><path d="M633,639.4 L622.5,639.4 A11.3,11.3 0 0 0 622.5,662 L633,662 L633,658.6 L624.5,658.6 A7.9,7.9 0 0 1 624.5,642.8 L633,642.8 Z" stroke="#9a9a9a" stroke-width="0.7" fill="#dedede"/><path d="M633,666.2 L622.5,666.2 A11.3,11.3 0 0 0 622.5,688.8 L633,688.8 L633,685.4 L624.5,685.4 A7.9,7.9 0 0 1 624.5,669.6 L633,669.6 Z" stroke="#9a9a9a" stroke-width="0.7" fill="#dedede"/><path d="M633,693.1 L622.5,693.1 A11.3,11.3 0 0 0 622.5,715.7 L633,715.7 L633,712.3 L624.5,712.3 A7.9,7.9 0 0 1 624.5,696.5 L633,696.5 Z" stroke="#9a9a9a" stroke-width="0.7" fill="#dedede"/><rect x="632.9" y="638.6" width="238.1" height="78.5" stroke="#777" stroke-width="0.9" fill="#fff"/><line x1="739.2" y1="648.2" x2="769.6" y2="648.2" stroke="#d6d6d6" stroke-width="0.8"/><line x1="739.2" y1="656.8" x2="769.6" y2="656.8" stroke="#c4c4c4" stroke-width="1.2"/><text x="754.4" y="654.3" font-size="7.5" text-anchor="middle" fill="#3a3a3a" textLength="29.0" lengthAdjust="spacingAndGlyphs">S = 34 m²</text><text x="756.6" y="670.8" font-size="9" text-anchor="middle" fill="#333" textLength="64" lengthAdjust="spacingAndGlyphs" stroke="#333" stroke-width="0.22">Salle de Réunion</text><line x1="600" y1="769.3" x2="913.5" y2="769.3" stroke="#888" stroke-width="0.8"/><line x1="649.3" y1="769.3" x2="649.3" y2="789.5" stroke="#999" stroke-width="0.7"/><line x1="869.6" y1="769.3" x2="869.6" y2="789.5" stroke="#999" stroke-width="0.7"/><line x1="903" y1="769.3" x2="903" y2="789.5" stroke="#999" stroke-width="0.7"/><rect x="746.1" y="765.5" width="15.3" height="7.5" fill="#fff" transform="rotate(0 753.8 769.3)"/><text x="753.8" y="771.6" font-size="6.5" text-anchor="middle" fill="#4a4a4a" textLength="12.3" lengthAdjust="spacingAndGlyphs">710.9</text><line x1="605.5" y1="636" x2="605.5" y2="789" stroke="#8a8a8a" stroke-width="0.7"/><rect x="598" y="685.2" width="15.3" height="7.5" fill="#fff" transform="rotate(-90 605.6 689)"/><text x="607.9" y="689" font-size="6.5" text-anchor="middle" fill="#4a4a4a" transform="rotate(-90 607.9 689)" textLength="12.3" lengthAdjust="spacingAndGlyphs">240.2</text><rect x="598" y="761.9" width="15.3" height="7.5" fill="#fff" transform="rotate(-90 605.6 765.7)"/><text x="607.9" y="765.7" font-size="6.5" text-anchor="middle" fill="#4a4a4a" transform="rotate(-90 607.9 765.7)" textLength="12.3" lengthAdjust="spacingAndGlyphs">117.3</text><line x1="59" y1="313.7" x2="59" y2="788" stroke="#8a8a8a" stroke-width="0.7"/><line x1="81.2" y1="313.7" x2="81.2" y2="422" stroke="#8a8a8a" stroke-width="0.7"/><line x1="69" y1="428" x2="69" y2="530" stroke="#8a8a8a" stroke-width="0.7"/><line x1="69" y1="552" x2="69" y2="788" stroke="#8a8a8a" stroke-width="0.7"/><line x1="57.3" y1="315.4" x2="60.7" y2="312" stroke="#666" stroke-width="0.8"/><line x1="57.3" y1="789.7" x2="60.7" y2="786.3" stroke="#666" stroke-width="0.8"/><line x1="79.5" y1="315.4" x2="82.9" y2="312" stroke="#666" stroke-width="0.8"/><line x1="79.5" y1="379.7" x2="82.9" y2="376.3" stroke="#666" stroke-width="0.8"/><line x1="79.5" y1="423.7" x2="82.9" y2="420.3" stroke="#666" stroke-width="0.8"/><line x1="67.3" y1="429.7" x2="70.7" y2="426.3" stroke="#666" stroke-width="0.8"/><line x1="67.3" y1="531.7" x2="70.7" y2="528.3" stroke="#666" stroke-width="0.8"/><line x1="67.3" y1="553.7" x2="70.7" y2="550.3" stroke="#666" stroke-width="0.8"/><line x1="67.3" y1="789.7" x2="70.7" y2="786.3" stroke="#666" stroke-width="0.8"/><line x1="99.3" y1="769.2" x2="102.7" y2="765.8" stroke="#666" stroke-width="0.8"/><line x1="423.3" y1="769.2" x2="426.7" y2="765.8" stroke="#666" stroke-width="0.8"/><line x1="255.3" y1="560.1" x2="258.7" y2="556.7" stroke="#666" stroke-width="0.8"/><line x1="423.3" y1="560.1" x2="426.7" y2="556.7" stroke="#666" stroke-width="0.8"/><line x1="603.8" y1="637.7" x2="607.2" y2="634.3" stroke="#666" stroke-width="0.8"/><line x1="603.8" y1="749.7" x2="607.2" y2="746.3" stroke="#666" stroke-width="0.8"/><line x1="603.8" y1="790.7" x2="607.2" y2="787.3" stroke="#666" stroke-width="0.8"/><line x1="598.3" y1="771" x2="601.7" y2="767.6" stroke="#666" stroke-width="0.8"/><line x1="911.3" y1="771" x2="914.7" y2="767.6" stroke="#666" stroke-width="0.8"/><line x1="418.8" y1="633.7" x2="422.2" y2="630.3" stroke="#666" stroke-width="0.8"/><line x1="418.8" y1="783.7" x2="422.2" y2="780.3" stroke="#666" stroke-width="0.8"/><rect x="50" y="546.2" width="18.1" height="7.5" fill="#fff" transform="rotate(-90 59 550)"/><text x="61.3" y="550" font-size="6.5" text-anchor="middle" fill="#4a4a4a" transform="rotate(-90 61.3 550)" textLength="15.05" lengthAdjust="spacingAndGlyphs">1077.8</text><rect x="73.5" y="342" width="15.3" height="7.5" fill="#fff" transform="rotate(-90 81.2 345.8)"/><text x="83.5" y="345.8" font-size="6.5" text-anchor="middle" fill="#4a4a4a" transform="rotate(-90 83.5 345.8)" textLength="12.3" lengthAdjust="spacingAndGlyphs">140.0</text><rect x="74.9" y="393.9" width="12.6" height="7.5" fill="#fff" transform="rotate(-90 81.2 397.7)"/><text x="83.5" y="397.7" font-size="6.5" text-anchor="middle" fill="#4a4a4a" transform="rotate(-90 83.5 397.7)" textLength="9.55" lengthAdjust="spacingAndGlyphs">90.0</text><rect x="62.7" y="438.2" width="12.6" height="7.5" fill="#fff" transform="rotate(-90 69 442)"/><text x="71.3" y="442" font-size="6.5" text-anchor="middle" fill="#4a4a4a" transform="rotate(-90 71.3 442)" textLength="9.55" lengthAdjust="spacingAndGlyphs">82.0</text><rect x="61.4" y="488.6" width="15.3" height="7.5" fill="#fff" transform="rotate(-90 69 492.4)"/><text x="71.3" y="492.4" font-size="6.5" text-anchor="middle" fill="#4a4a4a" transform="rotate(-90 71.3 492.4)" textLength="12.3" lengthAdjust="spacingAndGlyphs">158.1</text><rect x="61.4" y="665.4" width="15.3" height="7.5" fill="#fff" transform="rotate(-90 69 669.2)"/><text x="71.3" y="669.2" font-size="6.5" text-anchor="middle" fill="#4a4a4a" transform="rotate(-90 71.3 669.2)" textLength="12.3" lengthAdjust="spacingAndGlyphs">534.2</text><line x1="919.3" y1="542.7" x2="968.2" y2="781.2" stroke="#8a8a8a" stroke-width="0.7"/><rect x="937" y="659.2" width="15.3" height="7.5" fill="#fff" transform="rotate(78.5 944.6 663)"/><text x="942.4" y="663.5" font-size="6.5" text-anchor="middle" fill="#4a4a4a" transform="rotate(78.5 942.4 663.5)" textLength="12.3" lengthAdjust="spacingAndGlyphs">544.2</text>
<text x="953.34" y="83.1" font-size="15.3" fill="#1e1e1e" textLength="15.49" lengthAdjust="spacingAndGlyphs">LA</text><text x="972.65" y="83.1" font-size="15.3" fill="#1e1e1e" textLength="52.14" lengthAdjust="spacingAndGlyphs">MAISON</text><text x="1027.72" y="83.1" font-size="15.3" fill="#1e1e1e" textLength="25.48" lengthAdjust="spacingAndGlyphs">DES</text><text x="1055.87" y="83.1" font-size="15.3" fill="#1e1e1e" textLength="54.68" lengthAdjust="spacingAndGlyphs">MAÎTRES</text><text x="1113.80" y="83.1" font-size="15.3" fill="#1e1e1e" textLength="68.78" lengthAdjust="spacingAndGlyphs">CUISINIERS</text><text x="1186.00" y="83.1" font-size="15.3" fill="#1e1e1e" textLength="15.03" lengthAdjust="spacingAndGlyphs">DE</text><text x="1205.22" y="83.1" font-size="15.3" fill="#1e1e1e" textLength="50.94" lengthAdjust="spacingAndGlyphs">FRANCE</text><text x="995.26" y="119.8" font-size="14.5" fill="#1e1e1e" textLength="13.57" lengthAdjust="spacingAndGlyphs">13</text><text x="1012.40" y="119.8" font-size="14.5" fill="#1e1e1e" textLength="20.90" lengthAdjust="spacingAndGlyphs">rue</text><text x="1036.79" y="119.8" font-size="14.5" fill="#1e1e1e" textLength="16.40" lengthAdjust="spacingAndGlyphs">du</text><text x="1056.25" y="119.8" font-size="14.5" fill="#1e1e1e" textLength="8.07" lengthAdjust="spacingAndGlyphs">4</text><text x="1067.31" y="119.8" font-size="14.5" fill="#1e1e1e" textLength="71.26" lengthAdjust="spacingAndGlyphs">septembre,</text><text x="1140.93" y="119.8" font-size="14.5" fill="#1e1e1e" textLength="14.32" lengthAdjust="spacingAndGlyphs">75</text><text x="1159.33" y="119.8" font-size="14.5" fill="#1e1e1e" textLength="22.72" lengthAdjust="spacingAndGlyphs">002</text><text x="1185.44" y="119.8" font-size="14.5" fill="#1e1e1e" textLength="35.84" lengthAdjust="spacingAndGlyphs">PARIS</text><text x="1309.12 1319.00 1329.25 1339.75 1346.25 1354.75 1367.25 1377.50 1388.25 1399.00 1411.37 1421.50" y="176.8" font-size="15.5" fill="#1e1e1e" transform="scale(0.8,1)">PLAN GENERAL</text><text x="1390.50" y="176.8" font-size="15.5" fill="#1e1e1e" transform="scale(0.8,1)">R</text><text x="1401.88" y="176.8" font-size="15.5" fill="#1e1e1e" transform="scale(0.8,1)">T</text><text x="1408.25" y="176.8" font-size="15.5" fill="#1e1e1e" transform="scale(0.8,1)">I</text>
<text x="1089.6" y="221.2" font-size="7.3" fill="#333" textLength="42.7" lengthAdjust="spacingAndGlyphs">échelle 1/100</text>
</svg>
</body></html>
